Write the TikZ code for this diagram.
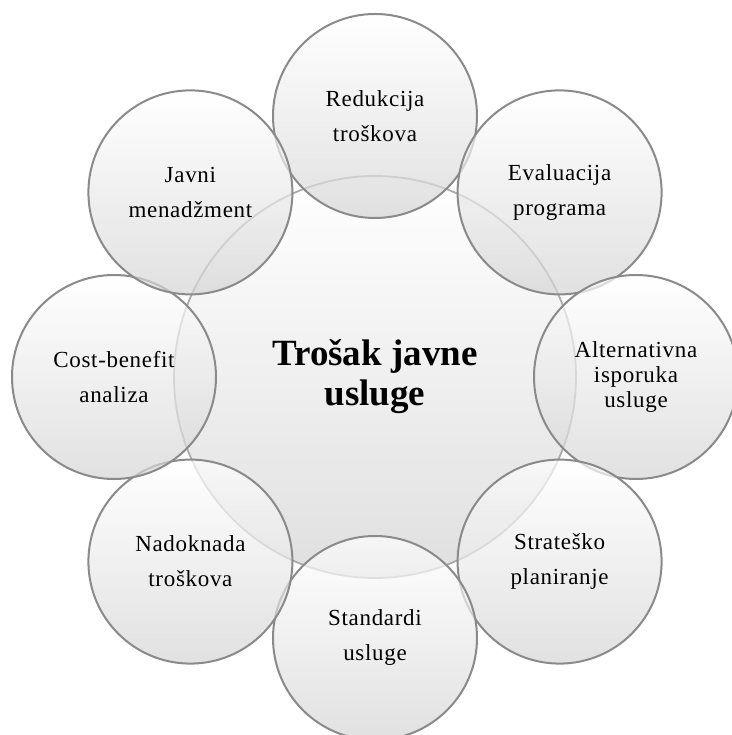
\documentclass[tikz,border=0pt]{standalone}
\usepackage{fontspec}
\setmainfont{Liberation Serif}
\newfontfamily\smartfont[LetterSpace=3]{Liberation Serif}
\usepackage{xcolor}
\usetikzlibrary{positioning}
\definecolor{ringGray}{HTML}{8A8A8A}
\definecolor{hubGray}{HTML}{ABABAB}
\definecolor{shadeLow}{HTML}{D4D4D4}
\definecolor{shadeHub}{HTML}{DCDCDC}

\begin{document}
\begin{tikzpicture}[
  x=1pt, y=1pt,
  hub/.style={circle, draw=hubGray, line width=1.8pt, minimum size=402pt,
    top color=white, bottom color=shadeHub, fill opacity=0.9, text opacity=1,
    align=center, font=\fontsize{37}{40}\selectfont\bfseries},
  topic/.style={circle, draw=ringGray, line width=2pt, minimum size=204pt,
    top color=white, bottom color=shadeLow, fill opacity=0.7, text opacity=1,
    align=center, inner sep=0pt, font=\smartfont\fontsize{23}{35}\selectfont},
]
\useasboundingbox (0,0) rectangle (731,735);

% === centre ===
\node[hub] (trosak) at (375, 358) {Trošak javne\\usluge};

% === ring of topics ===
\node[topic] (redukcija) at (375, 619) {Redukcija\\troškova};
\node[topic] (evaluacija) at (559.6, 542.6) {Evaluacija\\programa};
\node[topic, font=\smartfont\fontsize{23}{25}\selectfont] (alternativna) at (636, 358) {Alternativna\\isporuka\\usluge};
\node[topic] (strateski) at (559.6, 173.4) {Strateško\\planiranje};
\node[topic] (standardi) at (375, 97) {Standardi\\usluge};
\node[topic] (nadoknada) at (190.4, 173.4) {Nadoknada\\troškova};
\node[topic] (costbenefit) at (114, 358) {Cost-benefit\\analiza};
\node[topic] (javni) at (190.4, 542.6) {Javni\\menadžment};
\end{tikzpicture}
\end{document}
